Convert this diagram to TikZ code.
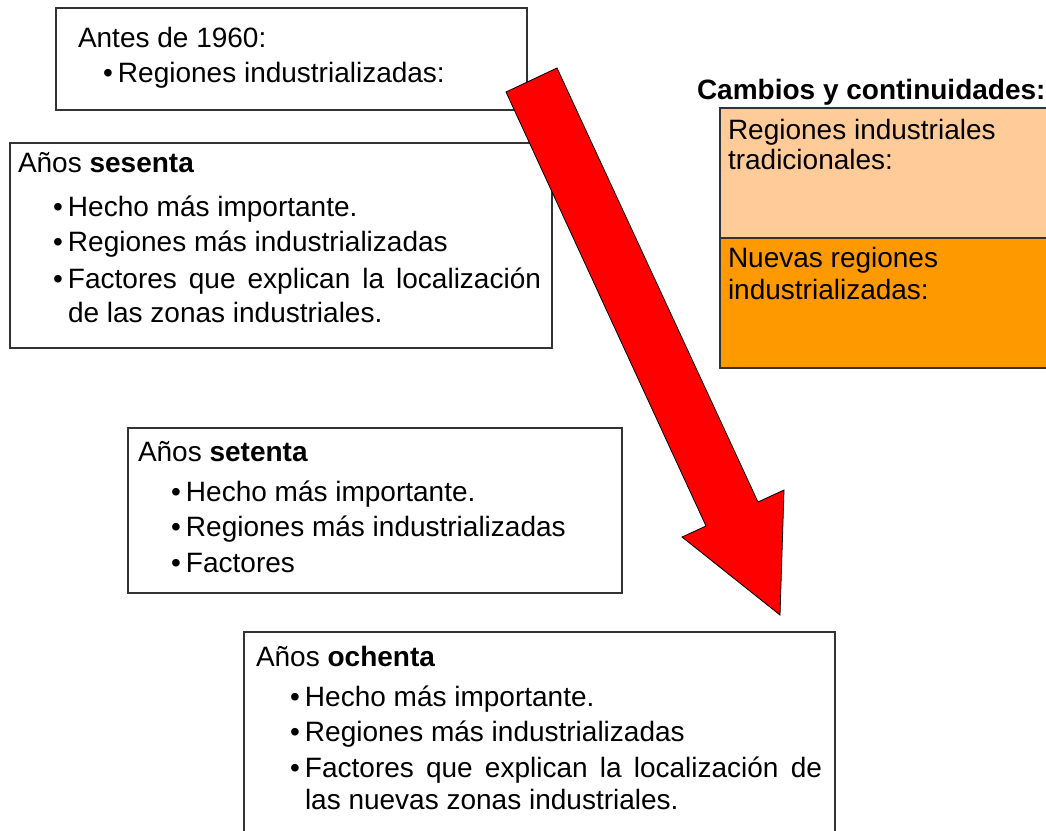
\documentclass[tikz,border=0pt]{standalone}
\usepackage{fontspec}
\setmainfont{Liberation Sans}
\begin{document}
\begin{tikzpicture}[x=1pt,y=-1pt,
  box/.style={draw=black!80,line width=1.3pt,anchor=north west,inner sep=0pt,outer sep=0pt},
  txt/.style={anchor=base west,inner sep=0pt,outer sep=0pt,font=\fontsize{28}{34}\selectfont},
  bigarrow/.style={fill=red,draw=black,line width=0.8pt,line join=miter}]
\newcommand\bul{\llap{•\hspace{5pt}}}
\useasboundingbox (0,0) rectangle (1046,830);
\clip (0,0) rectangle (1046,830);
% boxes
\node[box,minimum width=471pt,minimum height=102pt] (b1) at (56,8) {};
\node[box,minimum width=542pt,minimum height=205pt] (b2) at (10,143) {};
\node[box,minimum width=494pt,minimum height=165pt] (b3) at (128,428) {};
\node[box,minimum width=591pt,minimum height=230pt] (b4) at (244,632) {};
\node[box,fill={rgb,255:red,255;green,204;blue,153},minimum width=340pt,minimum height=130pt] (ot) at (720,108) {};
\node[box,fill={rgb,255:red,255;green,153;blue,0},minimum width=340pt,minimum height=130pt] (ob) at (720,238) {};
% texts box 1
\node[txt] (t1a) at (78,47) {Antes de 1960:};
\node[txt] (t1b) at (118,82) {\bul Regiones industrializadas:};
% box 2
\node[txt] (t2a) at (18,172) {Años \textbf{sesenta}};
\node[txt] (t2b) at (68,216) {\bul Hecho más importante.};
\node[txt] (t2c) at (68,251) {\bul Regiones más industrializadas};
\node[txt] (t2d) at (68,288) {\bul\makebox[473pt][s]{Factores que explican la localización}};
\node[txt] (t2e) at (68,322) {de las zonas industriales.};
% box 3
\node[txt] (t3a) at (138,461) {Años \textbf{setenta}};
\node[txt] (t3b) at (186,501) {\bul Hecho más importante.};
\node[txt] (t3c) at (186,536) {\bul Regiones más industrializadas};
\node[txt] (t3d) at (186,572) {\bul Factores};
% box 4
\node[txt] (t4a) at (256,666) {Años \textbf{ochenta}};
\node[txt] (t4b) at (305,706) {\bul Hecho más importante.};
\node[txt] (t4c) at (305,741) {\bul Regiones más industrializadas};
\node[txt] (t4d) at (305,777) {\bul\makebox[517pt][s]{Factores que explican la localización de}};
\node[txt] (t4e) at (305,809) {las nuevas zonas industriales.};
% right side
\node[txt] (title) at (697,99) {\textbf{Cambios y continuidades:}};
\node[txt] (o1) at (728,139) {Regiones industriales};
\node[txt] (o2) at (728,169) {tradicionales:};
\node[txt] (o3) at (728,267) {Nuevas regiones};
\node[txt] (o4) at (728,299) {industrializadas:};
% arrow
\coordinate (atl) at (506,92);
\coordinate (atr) at (557,68);
\coordinate (arn) at (758,502);
\coordinate (arb) at (784,490);
\coordinate (tip) at (780,615);
\coordinate (alb) at (682,537);
\coordinate (aln) at (706,526);
\draw[bigarrow] (atl) -- (atr) -- (arn) -- (arb) -- (tip) -- (alb) -- (aln) -- cycle;
\end{tikzpicture}
\end{document}
